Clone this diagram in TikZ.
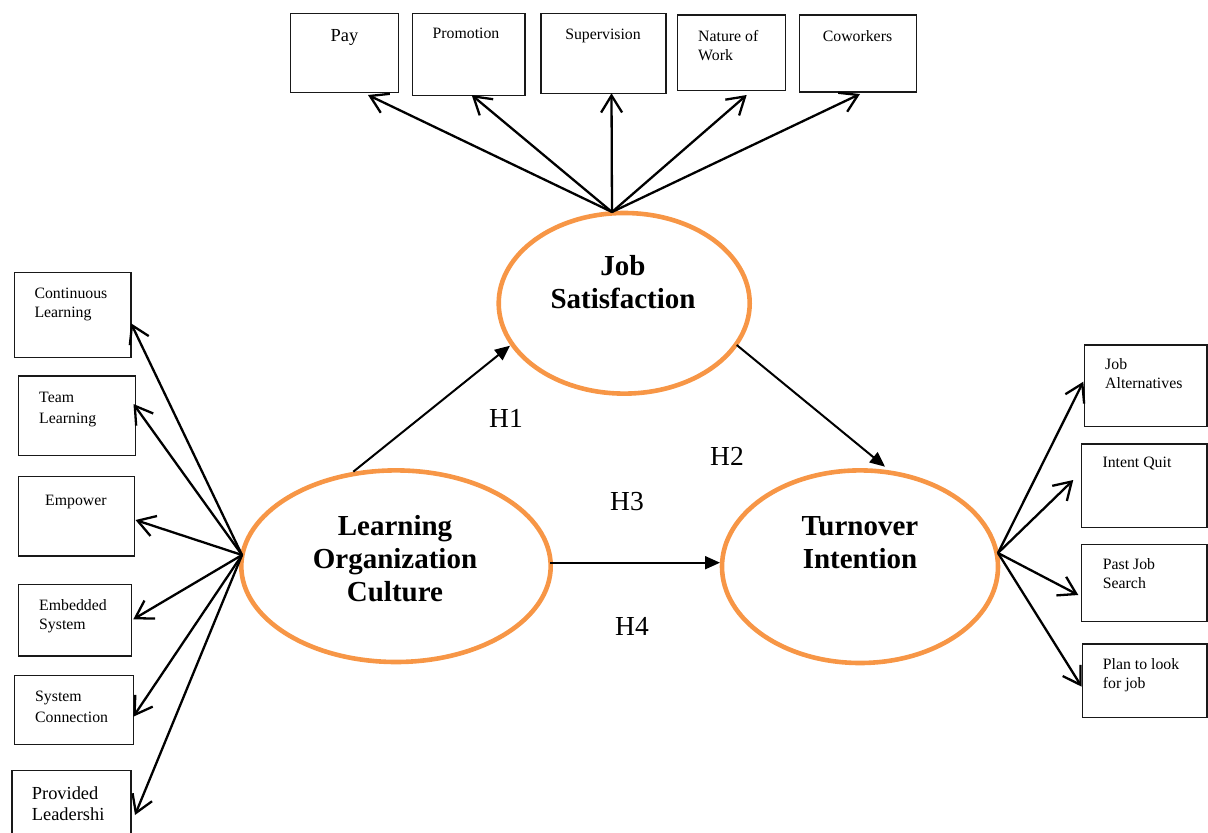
\documentclass[tikz,border=0pt]{standalone}
\usepackage{fontspec}
\setmainfont{Liberation Serif}
\usetikzlibrary{arrows.meta,shapes.geometric,fit}
\definecolor{lorange}{HTML}{F79646}
\tikzset{
  box/.style={draw=black!90, line width=1.4pt, inner sep=0pt, rectangle},
  lat/.style={draw=lorange, line width=4.6pt, ellipse, inner sep=0pt},
  smalltxt/.style={font=\fontsize{15.8}{19}\selectfont, inner sep=0pt, align=left, anchor=north west},
  smallc/.style={font=\fontsize{15.8}{19}\selectfont, inner sep=0pt, align=center, anchor=north},
  midtxt/.style={font=\fontsize{18.4}{21}\selectfont, inner sep=0pt, align=left},
  bigtxt/.style={font=\fontsize{29}{33.3}\selectfont\bfseries, inner sep=0pt, align=center, anchor=north},
  hyp/.style={font=\fontsize{27.5}{33}\selectfont, inner sep=0pt, anchor=base west},
  ind/.style={line width=2.3pt, -{Straight Barb[length=17pt,width=21pt]}},
  path/.style={line width=2pt, -{Triangle[length=15pt,width=13pt]}}
}
\begin{document}
\begin{tikzpicture}[x=1pt,y=-1pt]
\useasboundingbox (0,0) rectangle (1208,833);

% latent ellipses
\node[lat, minimum width=251pt, minimum height=180.6pt] (js) at (624.2,303.3) {};
\node[lat, minimum width=309.4pt, minimum height=191.6pt] (loc) at (396,566.2) {};
\node[lat, minimum width=276pt, minimum height=192.6pt] (to) at (860,566.7) {};
\node[bigtxt] (jst) at (623,251.7) {\strut Job\\Satisfaction};
\node[bigtxt] (loct) at (395,511.7) {\strut Learning\\Organization\\Culture};
\node[bigtxt] (tot) at (860,511.7) {\strut Turnover\\Intention};

% top boxes
\node[box, fit={(290.7,13.3) (398.3,92.3)}] (pay) {};
\node[box, fit={(412.7,13.3) (525,95.7)}] (prom) {};
\node[box, fit={(541,13.3) (666,93.3)}] (sup) {};
\node[box, fit={(677.7,15) (785.7,90.7)}] (nat) {};
\node[box, fit={(799.3,15) (916.7,92)}] (cow) {};
\node[midtxt, anchor=north] (payt) at (344.5,27) {\strut Pay};
\node[smallc] (promt) at (466,25) {\strut Promotion};
\node[smallc] (supt) at (603,25.7) {\strut Supervision};
\node[smalltxt] (natt) at (698,27.7) {\strut Nature of\\Work};
\node[smallc] (cowt) at (857.5,27.7) {\strut Coworkers};

% left boxes
\node[box, fit={(14.7,272.7) (131,357.3)}] (cl) {};
\node[box, fit={(18.3,376) (135.7,455.3)}] (tl) {};
\node[box, fit={(18.3,476.7) (134.3,556)}] (emp) {};
\node[box, fit={(18.3,584.3) (131.7,656)}] (emb) {};
\node[box, fit={(14.7,675.7) (133.7,744.3)}] (sc) {};
\node[box, fit={(12,770.7) (131,845)}] (pl) {};
\node[smalltxt] (clt) at (34.3,285) {\strut Continuous\\Learning};
\node[smalltxt, font=\fontsize{15.8}{21}\selectfont] (tlt) at (39,387.4) {\strut Team\\Learning};
\node[smalltxt] (empt) at (45,491.7) {\strut Empower};
\node[smalltxt] (embt) at (39,596.7) {\strut Embedded\\System};
\node[smalltxt, font=\fontsize{15.8}{20.5}\selectfont] (sct) at (35,687.4) {\strut System\\Connection};
\node[midtxt, anchor=north west] (plt) at (31.7,784.3) {\strut Provided\\Leadershi};

% right boxes
\node[box, fit={(1084.3,345) (1207,426.7)}] (ja) {};
\node[box, fit={(1081.7,444) (1207,527.3)}] (iq) {};
\node[box, fit={(1081.7,544.3) (1207,621.7)}] (pjs) {};
\node[box, fit={(1082.3,644) (1207,717.3)}] (plan) {};
\node[smalltxt] (jat) at (1105,356) {\strut Job\\Alternatives};
\node[smalltxt] (iqt) at (1102.3,454.4) {\strut Intent Quit};
\node[smalltxt] (pjst) at (1102.7,555.7) {\strut Past Job\\Search};
\node[smalltxt, font=\fontsize{15.8}{18.3}\selectfont] (plant) at (1102.7,656.7) {\strut Plan to look\\for job};

% connector end points
\coordinate (jsO) at (612,212);
\coordinate (locO) at (242,555);
\coordinate (toO) at (998,553);
\coordinate (payP) at (368,95);
\coordinate (promP) at (471.7,95);
\coordinate (supP) at (611.5,93.3);
\coordinate (natP) at (746.7,95);
\coordinate (cowP) at (860,94);
\coordinate (clP) at (131,323.3);
\coordinate (tlP) at (133.5,404);
\coordinate (empP) at (135.5,520);
\coordinate (embP) at (133.3,619.3);
\coordinate (scP) at (133.3,716.7);
\coordinate (plP) at (135,815);
\coordinate (jaP) at (1083.3,381.7);
\coordinate (iqP) at (1073.3,480);
\coordinate (pjsP) at (1078.3,595);
\coordinate (planP) at (1081.7,686.7);
\coordinate (h1a) at (353.3,471.7);
\coordinate (h1b) at (510,345.7);
\coordinate (h2a) at (736.7,345);
\coordinate (h2b) at (885,466.7);
\coordinate (h3a) at (550,562.7);
\coordinate (h3b) at (720,562.7);

% indicator arrows
\foreach \t in {payP,promP,supP,natP,cowP} \draw[ind] (jsO) -- (\t);
\foreach \t in {clP,tlP,empP,embP,scP,plP} \draw[ind] (locO) -- (\t);
\foreach \t in {jaP,iqP,pjsP,planP} \draw[ind] (toO) -- (\t);

% structural paths
\draw[path] (h1a) -- (h1b);
\draw[path] (h2a) -- (h2b);
\draw[path] (h3a) -- (h3b);

% hypothesis labels
\node[hyp] (H1) at (489,427) {H1};
\node[hyp] (H2) at (710,465) {H2};
\node[hyp] (H3) at (610,510) {H3};
\node[hyp] (H4) at (615,635) {H4};
\end{tikzpicture}
\end{document}
